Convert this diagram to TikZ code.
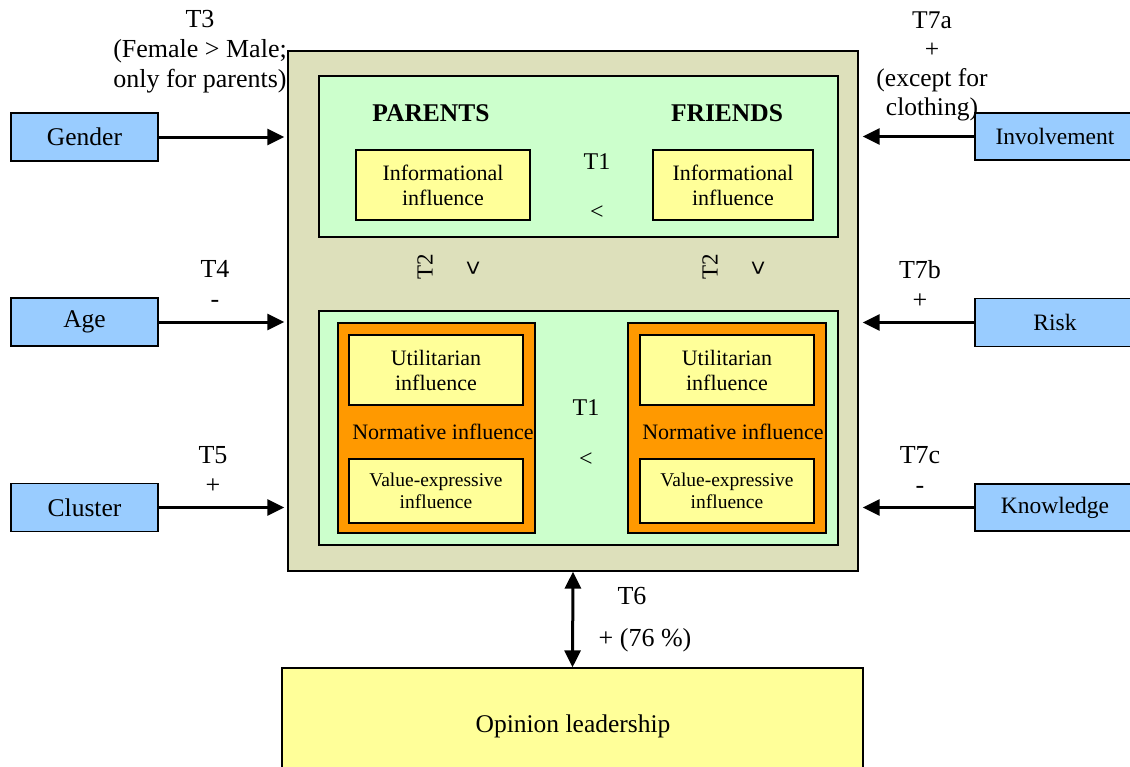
\documentclass[tikz,border=0pt]{standalone}
\usepackage{fontspec}
\setmainfont{Liberation Serif}
\setsansfont{Liberation Sans}
\usetikzlibrary{arrows.meta}
\definecolor{outerc}{RGB}{221,224,187}
\definecolor{greenc}{RGB}{204,255,204}
\definecolor{yellowc}{RGB}{255,255,153}
\definecolor{orangec}{RGB}{255,153,0}
\definecolor{bluec}{RGB}{153,204,255}
\tikzset{
  box/.style={draw=black, line width=1.3pt, rectangle, inner sep=0pt, align=center},
  bluebox/.style={box, fill=bluec},
  ylbox/.style={box, fill=yellowc, font=\fontsize{22}{25}\selectfont},
  lbl/.style={inner sep=0pt, align=center, font=\fontsize{26}{30}\selectfont},
  cmp/.style={inner sep=0pt, align=center, font=\fontsize{24}{25}\selectfont},
  arr/.style={line width=3pt, -{Triangle[length=17pt,width=16pt]}},
  darr/.style={line width=3pt, {Triangle[length=17pt,width=16pt]}-{Triangle[length=17pt,width=16pt]}},
}
\begin{document}
\begin{tikzpicture}[x=1pt,y=-1pt]
\useasboundingbox (0,0) rectangle (1130,766);
% containers
\node[box, fill=outerc, minimum width=570pt, minimum height=520pt] (outer) at (573,311) {};
\node[box, fill=greenc, minimum width=519pt, minimum height=161pt] (topg) at (578.5,156.5) {};
\node[box, fill=greenc, minimum width=519pt, minimum height=234pt] (botg) at (578.5,428) {};
% top box content
\node[lbl, font=\fontsize{25.5}{30}\selectfont\bfseries] (parents) at (431,113) {PARENTS};
\node[lbl, font=\fontsize{25.5}{30}\selectfont\bfseries] (friends) at (727,113) {FRIENDS};
\node[ylbox, minimum width=174pt, minimum height=70pt] (infoL) at (443,185) {Informational\\influence};
\node[ylbox, minimum width=160pt, minimum height=70pt] (infoR) at (733,185) {Informational\\influence};
\node[cmp] (t1a) at (597,162) {T1};
\node[cmp] (lta) at (597,213) {<};
% T2 labels
\node[cmp, rotate=90, font=\fontsize{23}{25}\selectfont] (t2L) at (425,267) {T2};
\node[cmp, rotate=90, font=\fontsize{25}{25}\selectfont\sffamily] (vL) at (474,268) {<};
\node[cmp, rotate=90, font=\fontsize{23}{25}\selectfont] (t2R) at (710,267) {T2};
\node[cmp, rotate=90, font=\fontsize{25}{25}\selectfont\sffamily] (vR) at (759,268) {<};
% bottom box content
\node[box, fill=orangec, minimum width=197pt, minimum height=210pt] (orL) at (436.5,428) {};
\node[box, fill=orangec, minimum width=198pt, minimum height=210pt] (orR) at (727,428) {};
\node[ylbox, minimum width=174pt, minimum height=70pt] (utL) at (436,370) {Utilitarian\\influence};
\node[ylbox, minimum width=174pt, minimum height=70pt] (utR) at (727,370) {Utilitarian\\influence};
\node[lbl, font=\fontsize{22}{25}\selectfont] (normL) at (443,432) {Normative influence};
\node[lbl, font=\fontsize{22}{25}\selectfont] (normR) at (733,432) {Normative influence};
\node[ylbox, minimum width=174pt, minimum height=64pt, font=\fontsize{19.5}{22}\selectfont] (vaL) at (436,491) {Value-expressive\\influence};
\node[ylbox, minimum width=174pt, minimum height=64pt, font=\fontsize{19.5}{22}\selectfont] (vaR) at (727,491) {Value-expressive\\influence};
\node[cmp] (t1b) at (586,408) {T1};
\node[cmp] (ltb) at (586,460) {<};
% left boxes
\node[bluebox, minimum width=147pt, minimum height=48pt, font=\fontsize{25.5}{30}\selectfont] (gender) at (84.5,137) {Gender};
\node[bluebox, minimum width=147pt, minimum height=48pt, font=\fontsize{25.5}{30}\selectfont] (age) at (84.5,322) {Age};
\node[bluebox, minimum width=147pt, minimum height=48pt, font=\fontsize{25.5}{30}\selectfont] (cluster) at (84.5,507.5) {Cluster};
% right boxes
\node[bluebox, minimum width=160pt, minimum height=47pt, font=\fontsize{23.5}{30}\selectfont] (invol) at (1055,136.5) {Involvement};
\node[bluebox, minimum width=160pt, minimum height=48pt, font=\fontsize{23.5}{30}\selectfont] (risk) at (1055,322.5) {Risk};
\node[bluebox, minimum width=160pt, minimum height=47pt, font=\fontsize{23.5}{30}\selectfont] (know) at (1055,507.5) {Knowledge};
% opinion leadership
\node[box, fill=yellowc, minimum width=581pt, minimum height=112pt] (opinion) at (572.5,724) {};
\node[lbl, font=\fontsize{25.5}{30}\selectfont] (opt) at (573,726) {Opinion leadership};
% arrows
\draw[arr, shorten >=3pt] (gender.east) -- (gender.east -| outer.west);
\draw[arr, shorten >=3pt] (age.east) -- (age.east -| outer.west);
\draw[arr, shorten >=3pt] (cluster.east) -- (cluster.east -| outer.west);
\draw[arr, shorten >=4pt] (invol.west) -- (invol.west -| outer.east);
\draw[arr, shorten >=4pt] (risk.west) -- (risk.west -| outer.east);
\draw[arr, shorten >=4pt] (know.west) -- (know.west -| outer.east);
\draw[darr] (outer.south) -- (opinion.north);
% labels
\node[lbl] (t3) at (200,52) {T3\\(Female > Male;\\only for parents)};
\node[lbl] (t4) at (215,284) {T4\\-};
\node[lbl] (t5) at (213,470) {T5\\+};
\node[lbl, font=\fontsize{25.5}{29}\selectfont] (t7a) at (932,66) {T7a\\+\\(except for\\clothing)};
\node[lbl] (t7b) at (920,284) {T7b\\+};
\node[lbl] (t7c) at (920,470) {T7c\\-};
\node[lbl] (t6) at (632,596) {T6};
\node[lbl] (t6b) at (645,640) {+ (76 \%)};
\end{tikzpicture}
\end{document}
